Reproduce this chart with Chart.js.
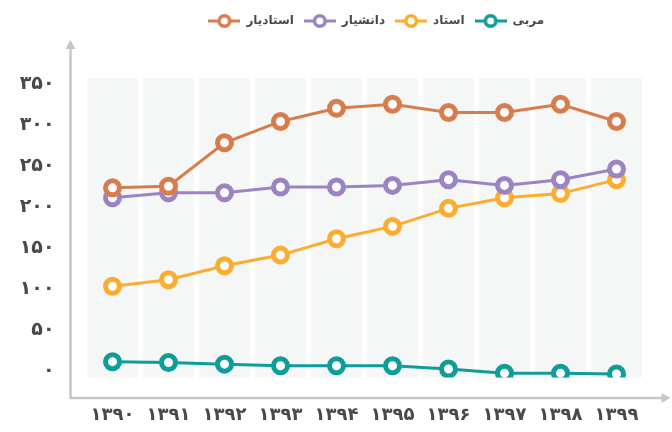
<!DOCTYPE html>
<html>
<head>
<meta charset="utf-8">
<script src="https://cdn.jsdelivr.net/npm/chart.js@4"></script>
<style>
  html, body { margin: 0; padding: 0; background: #fff; }
  #wrap { width: 672px; height: 432px; }
</style>
</head>
<body>
<div id="wrap"><canvas id="chart"></canvas></div>
<script>
// years on the x axis
const years = ['۱۳۹۰', '۱۳۹۱', '۱۳۹۲', '۱۳۹۳', '۱۳۹۴', '۱۳۹۵', '۱۳۹۶', '۱۳۹۷', '۱۳۹۸', '۱۳۹۹'];
// y axis ticks
const yTicks = [0, 50, 100, 150, 200, 250, 300, 350];

// series
const assistantProf = [224, 226, 279, 305, 321, 326, 316, 316, 326, 305];   // استادیار
const associateProf = [212, 218, 218, 225, 225, 227, 234, 227, 234, 247];   // دانشیار
const professor     = [104, 112, 129, 142, 162, 177, 199, 212, 217, 234];   // استاد
const instructor    = [12, 11, 9, 7, 7, 7, 3, -2, -2, -3];                  // مربی

const FONT = "'DejaVu Sans', sans-serif";

function toFa(n) {
  return String(n).replace(/\d/g, d => '۰۱۲۳۴۵۶۷۸۹'[d]);
}

// legend marker: short line with a ring in the middle
function legendMarker(color) {
  const c = document.createElement('canvas');
  c.width = 32; c.height = 16;
  const g = c.getContext('2d');
  g.strokeStyle = color;
  g.lineWidth = 3;
  g.beginPath(); g.moveTo(0, 8); g.lineTo(32, 8); g.stroke();
  g.beginPath(); g.arc(16, 8, 5.3, 0, Math.PI * 2);
  g.fillStyle = '#fff'; g.fill();
  g.lineWidth = 3.6; g.stroke();
  return c;
}

function series(label, data, color) {
  return {
    label: label,
    data: data,
    borderColor: color,
    backgroundColor: '#fff',
    borderWidth: 3,
    pointRadius: 7,
    pointBorderWidth: 5,
    pointBackgroundColor: '#fff',
    pointBorderColor: color,
    pointStyle: legendMarker(color),
    tension: 0
  };
}

// draw points with circles even though legend uses the image style
const ringPoints = {
  id: 'ringPoints',
  beforeDatasetsDraw(chart) {
    chart.data.datasets.forEach((ds, i) => {
      chart.getDatasetMeta(i).data.forEach(p => { p.options.pointStyle = 'circle'; });
    });
  }
};

// column bands + arrow axes
const decor = {
  id: 'decor',
  afterLayout(chart) {
    const lg = chart.legend;
    if (lg) {
      lg.left += 54; lg.right += 54;
      const h = lg.bottom - lg.top;
      lg.top = 5; lg.bottom = 5 + h;
    }
  },
  beforeDatasetsDraw(chart) {
    const { ctx, chartArea: a, scales: { x } } = chart;
    const pitch = (a.right - a.left) / years.length;
    const w = pitch * 0.905;
    ctx.save();
    ctx.fillStyle = '#f5f7f6';
    years.forEach((_, i) => {
      const cx = x.getPixelForValue(i);
      ctx.fillRect(cx - w / 2, a.top, w, a.bottom - a.top);
    });
    // axes
    const ax = a.left - 14, ay = a.bottom + 20.5;
    const topY = 40, rightX = a.right + 26;
    ctx.strokeStyle = '#c6c6c6';
    ctx.fillStyle = '#c6c6c6';
    ctx.lineWidth = 2.5;
    ctx.beginPath();
    ctx.moveTo(ax, topY + 6); ctx.lineTo(ax, ay); ctx.lineTo(rightX - 6, ay);
    ctx.stroke();
    ctx.beginPath();
    ctx.moveTo(ax, topY); ctx.lineTo(ax - 5, topY + 9); ctx.lineTo(ax + 5, topY + 9); ctx.closePath();
    ctx.fill();
    ctx.beginPath();
    ctx.moveTo(rightX, ay); ctx.lineTo(rightX - 9, ay - 5); ctx.lineTo(rightX - 9, ay + 5); ctx.closePath();
    ctx.fill();
    ctx.restore();
  }
};

new Chart(document.getElementById('chart'), {
  type: 'line',
  data: {
    labels: years,
    datasets: [
      series('استادیار', assistantProf, '#d97c4c'),
      series('دانشیار', associateProf, '#9b84c1'),
      series('استاد', professor, '#fbad2f'),
      series('مربی', instructor, '#0f9d9a')
    ]
  },
  options: {
    responsive: true,
    maintainAspectRatio: false,
    animation: false,
    layout: { padding: { top: 46, left: 0, right: 27.5, bottom: 0 } },
    plugins: {
      tooltip: { enabled: false },
      legend: {
        position: 'top',
        labels: {
          usePointStyle: true,
          pointStyleWidth: 32,
          boxHeight: 12,
          padding: 10,
          color: '#4a4a4a',
          font: { family: FONT, size: 12, weight: 'bold' }
        }
      }
    },
    scales: {
      x: {
        offset: true,
        grid: { display: false, drawTicks: false },
        border: { display: false },
        afterFit(s) { s.height = 54.5; },
        ticks: {
          color: '#4a4a4a',
          padding: 27,
          font: { family: FONT, size: 18, weight: 'bold' }
        }
      },
      y: {
        min: -7.3,
        max: 358,
        grid: { display: false, drawTicks: false },
        border: { display: false },
        afterFit(s) { s.width = 84.5; },
        afterBuildTicks(s) { s.ticks = yTicks.map(v => ({ value: v })); },
        ticks: {
          color: '#4a4a4a',
          padding: 30,
          font: { family: FONT, size: 19, weight: 'bold' },
          callback: v => toFa(v)
        }
      }
    }
  },
  plugins: [ringPoints, decor]
});
</script>
</body>
</html>
